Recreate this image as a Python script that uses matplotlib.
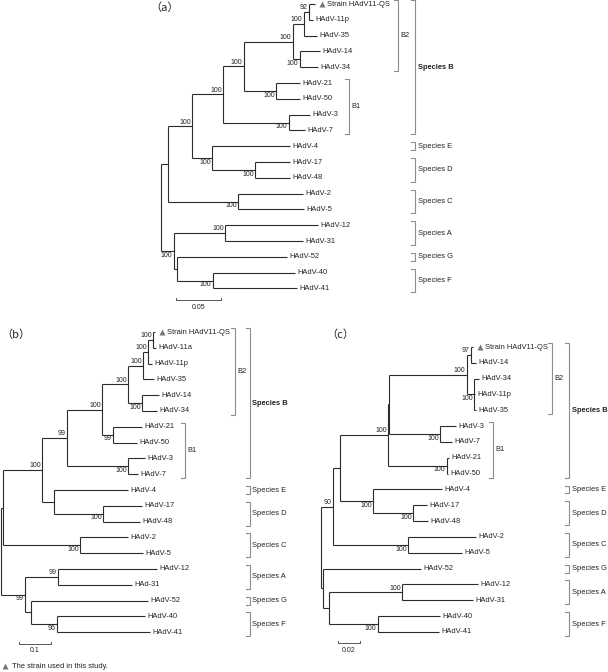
import re
import matplotlib
matplotlib.use("Agg")
import matplotlib.pyplot as plt
from matplotlib.collections import LineCollection

plt.rcParams['font.family'] = ['Liberation Sans', 'DejaVu Sans']

# ---------------- data: trees (Newick, branch lengths in substitutions/site, bootstrap labels) ----
tree_a = ("((((((((^Strain HAdV11-QS:0.0067,HAdV-11p:0.0044)92:0.0056,HAdV-35:0.0144)100:0.0122,"
          "(HAdV-14:0.0222,HAdV-34:0.0200)100:0.0078)100:0.0544,(HAdV-21:0.0267,HAdV-50:0.0267)100:0.0356)100:0.0233,"
          "(HAdV-3:0.0233,HAdV-7:0.0178)100:0.0733)100:0.0344,(HAdV-4:0.0867,(HAdV-17:0.0389,HAdV-48:0.0389)100:0.0478)100:0.0222)100:0.0267,"
          "(HAdV-2:0.0722,HAdV-5:0.0733)100:0.0778):0.0078,((HAdV-12:0.1033,HAdV-31:0.0867)100:0.0567,"
          "(HAdV-52:0.1222,(HAdV-40:0.0911,HAdV-41:0.0933)100:0.0400):0.0033)100:0.0144);")

tree_b = ("(((((((((^Strain HAdV11-QS:0.0063,HAdV-11a:0.0094)100:0.0156,HAdV-11p:0.0125)100:0.0156,HAdV-35:0.0344)100:0.0469,"
          "(HAdV-14:0.0531,HAdV-34:0.0469)100:0.0438)100:0.0813,(HAdV-21:0.0906,HAdV-50:0.0750)99:0.0344)100:0.1094,"
          "(HAdV-3:0.0531,HAdV-7:0.0313)100:0.1906)99:0.0781,(HAdV-4:0.2313,(HAdV-17:0.1219,HAdV-48:0.1156)100:0.1531):0.0375)100:0.1219,"
          "(HAdV-2:0.1500,HAdV-5:0.1969)100:0.2406):0.0063,((HAdV-12:0.3094,HAd-31:0.2313)99:0.1031,"
          "(HAdV-52:0.3656,(HAdV-40:0.2750,HAdV-41:0.2906)96:0.0813):0.0188)99:0.0750);")

tree_c = ("(((((((^Strain HAdV11-QS:0.0018,HAdV-14:0.0045)97:0.0036,(HAdV-34:0.0045,HAdV-11p:0.0009,HAdV-35:0.0018)100:0.0064)100:0.0709,"
          "(HAdV-3:0.0145,HAdV-7:0.0109)100:0.0464):0.0009,(HAdV-21:0.0018,HAdV-50:0.0009)100:0.0536)100:0.0436,"
          "(HAdV-4:0.0627,(HAdV-17:0.0127,HAdV-48:0.0136)100:0.0364)100:0.0300):0.0064,"
          "(HAdV-2:0.0618,HAdV-5:0.0491)100:0.0682)90:0.0109,(HAdV-52:0.0891,((HAdV-12:0.0691,HAdV-31:0.0645)100:0.0664,"
          "(HAdV-40:0.0564,HAdV-41:0.0555)100:0.0445):0.0055):0.0018);")

QS = "^Strain HAdV11-QS"
subclades_a = [("B2", QS, "HAdV-34"), ("B1", "HAdV-21", "HAdV-7")]
species_a = [("Species B", QS, "HAdV-7"), ("Species E", "HAdV-4", "HAdV-4"),
             ("Species D", "HAdV-17", "HAdV-48"), ("Species C", "HAdV-2", "HAdV-5"),
             ("Species A", "HAdV-12", "HAdV-31"), ("Species G", "HAdV-52", "HAdV-52"),
             ("Species F", "HAdV-40", "HAdV-41")]
subclades_b = [("B2", QS, "HAdV-34"), ("B1", "HAdV-21", "HAdV-7")]
species_b = [("Species B", QS, "HAdV-7"), ("Species E", "HAdV-4", "HAdV-4"),
             ("Species D", "HAdV-17", "HAdV-48"), ("Species C", "HAdV-2", "HAdV-5"),
             ("Species A", "HAdV-12", "HAd-31"), ("Species G", "HAdV-52", "HAdV-52"),
             ("Species F", "HAdV-40", "HAdV-41")]
subclades_c = [("B2", QS, "HAdV-35"), ("B1", "HAdV-3", "HAdV-50")]
species_c = [("Species B", QS, "HAdV-50"), ("Species E", "HAdV-4", "HAdV-4"),
             ("Species D", "HAdV-17", "HAdV-48"), ("Species C", "HAdV-2", "HAdV-5"),
             ("Species G", "HAdV-52", "HAdV-52"), ("Species A", "HAdV-12", "HAdV-31"),
             ("Species F", "HAdV-40", "HAdV-41")]
scale_a, scale_b, scale_c = 0.05, 0.1, 0.02
footnote = "The strain used in this study."

# ---------------- layout (pixels) ----------------
W, H = 608, 672
PANELS = [
    dict(tree=tree_a, tag="（a）", root=161, ppu=900, y0=4, dy=15.8, sub_x={"B2": 398, "B1": 349}, sp_x=415,
         bar=(176, 300), tagpos=(150, 8), subs=subclades_a, species=species_a, scale=scale_a),
    dict(tree=tree_b, tag="（b）", root=1, ppu=320, y0=332, dy=15.8, sub_x={"B2": 235, "B1": 185}, sp_x=250,
         bar=(19, 644), tagpos=(1, 335), subs=subclades_b, species=species_b, scale=scale_b),
    dict(tree=tree_c, tag="（c）", root=321, ppu=1100, y0=347, dy=15.83, sub_x={"B2": 552, "B1": 493}, sp_x=569,
         bar=(338, 643), tagpos=(326, 335), subs=subclades_c, species=species_c, scale=scale_c),
]

LINE = "#2b2b2b"
GRAY = "#8c8c8c"
FS_LEAF = 5.4
FS_BOOT = 5.0


def parse(s):
    toks = [t for t in re.findall(r"[(),:;]|[^(),:;]+", s)]

    def node(i):
        n = {"children": [], "name": None, "label": None, "len": 0.0}
        if toks[i] == "(":
            i += 1
            while True:
                c, i = node(i)
                n["children"].append(c)
                if toks[i] == ",":
                    i += 1
                    continue
                i += 1
                break
            if toks[i] not in {"(", ")", ",", ":", ";"}:
                n["label"] = toks[i].strip()
                i += 1
        else:
            n["name"] = toks[i].strip()
            i += 1
        if toks[i] == ":":
            n["len"] = float(toks[i + 1])
            i += 2
        return n, i

    return node(0)[0]


def layout(n, x0, counter, leaves):
    n["x"] = x0 + n["len"]
    if n["children"]:
        for c in n["children"]:
            layout(c, n["x"], counter, leaves)
        n["y"] = (n["children"][0]["y"] + n["children"][-1]["y"]) / 2
    else:
        n["y"] = counter[0]
        leaves[n["name"]] = n["y"]
        counter[0] += 1


fig = plt.figure(figsize=(W / 100, H / 100), dpi=100)
fig.patch.set_facecolor("white")

for P in PANELS:
    X = lambda px, P=P: (px - P["root"]) / P["ppu"]
    Y = lambda py, P=P: (py - P["y0"]) / P["dy"]
    ax = fig.add_axes([0, 0, 1, 1])
    ax.set_xlim(X(0), X(W))
    ax.set_ylim(Y(H), Y(0))
    ax.axis("off")
    ax.patch.set_alpha(0)

    root = parse(P["tree"])
    root["len"] = 0.0
    leaves = {}
    layout(root, 0.0, [0], leaves)
    px = 1.0 / P["ppu"]  # one pixel in x data units

    segs = []

    def walk(n, parent=None, first=False):
        if parent is not None:
            segs.append([(parent["x"], n["y"]), (n["x"], n["y"])])
        if n["children"]:
            segs.append([(n["x"], n["children"][0]["y"]), (n["x"], n["children"][-1]["y"])])
            for k, c in enumerate(n["children"]):
                walk(c, n, k == 0)
            if n["label"]:
                ax.annotate(n["label"], (n["x"], n["y"]), xytext=(-1.0, 0.5 if first else -0.5),
                            textcoords="offset points", ha="right", va="bottom" if first else "top",
                            fontsize=FS_BOOT, color="#222222")
        else:
            name = n["name"]
            if name.startswith("^"):
                ax.plot([n["x"] + 7 * px], [n["y"] - 0.02], marker="^", ms=4.6, color="#777777", mec="none")
                ax.text(n["x"] + 12 * px, n["y"], name[1:], ha="left", va="center", fontsize=FS_LEAF, color="#222222")
            else:
                ax.text(n["x"] + 2.5 * px, n["y"], name, ha="left", va="center", fontsize=FS_LEAF, color="#222222")

    walk(root)
    ax.add_collection(LineCollection(segs, colors=LINE, linewidths=0.8))

    # brackets
    def bracket(label, a, b, xpx, bold):
        y1, y2 = leaves[a] - 0.25, leaves[b] + 0.25
        x = X(xpx)
        ax.plot([X(xpx - 4), x, x, X(xpx - 4)], [y1, y1, y2, y2], color=GRAY, lw=0.8, solid_joinstyle="miter")
        ax.text(X(xpx + 2.5), (y1 + y2) / 2, label, ha="left", va="center", fontsize=FS_LEAF,
                fontweight="bold" if bold else "normal", color="#222222")

    for lab, a, b in P["subs"]:
        bracket(lab, a, b, P["sub_x"][lab], False)
    for lab, a, b in P["species"]:
        bracket(lab, a, b, P["sp_x"], lab == "Species B")

    # scale bar
    bx, by = P["bar"]
    x0 = X(bx)
    x1 = x0 + P["scale"]
    ax.plot([x0, x0, x1, x1], [Y(by - 2), Y(by), Y(by), Y(by - 2)], color="#555555", lw=0.7)
    ax.text((x0 + x1) / 2, Y(by + 7), f"{P['scale']:g}", ha="center", va="center", fontsize=FS_BOOT,
            color="#222222")

    # panel tag
    tx, ty = P["tagpos"]
    ax.text(X(tx), Y(ty), P["tag"], ha="left", va="center", fontsize=8,
            family=["Noto Sans CJK SC", "DejaVu Sans"], color="#222222")

    if P is PANELS[1]:
        ax.plot([X(5)], [Y(666)], marker="^", ms=4.6, color="#777777", mec="none")
        ax.text(X(12), Y(666), footnote, ha="left", va="center", fontsize=FS_LEAF, color="#222222")

fig.savefig("out.png", dpi=100, facecolor="white")
